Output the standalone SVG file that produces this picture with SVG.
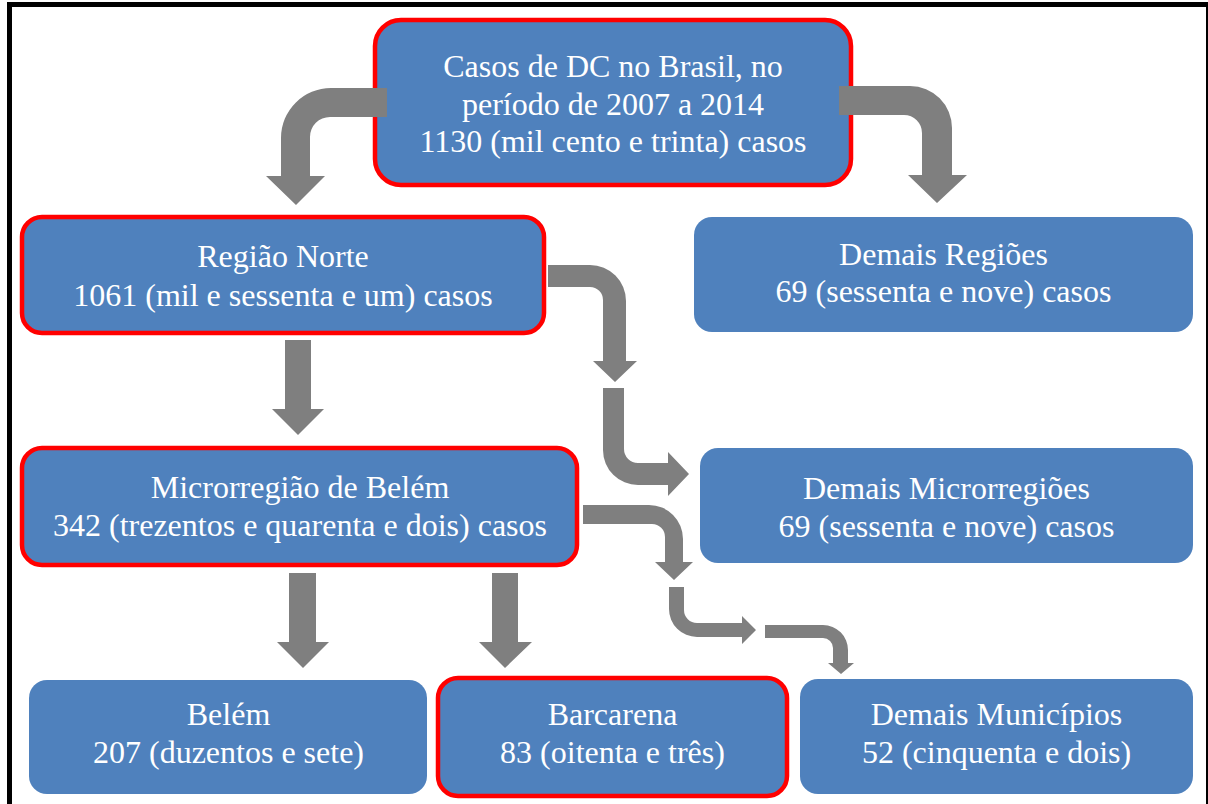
<svg xmlns="http://www.w3.org/2000/svg" width="1208" height="804" viewBox="0 0 1208 804">
<style>
.box{fill:#4F81BD}
.hl{stroke:#FF0000;stroke-width:4.5}
.t{font-family:"Liberation Serif","Times New Roman",serif;font-size:32px;fill:#FFFFFF;text-anchor:middle}
.arr{fill:#7F7F7F}
</style>
<rect x="0" y="0" width="1208" height="804" fill="#FFFFFF"/>
<rect x="9.5" y="4.5" width="1199" height="900" fill="none" stroke="#000000" stroke-width="5"/>
<g id="node-brasil">
<rect class="box hl" x="375" y="20" width="476" height="165" rx="26"/>
<text class="t" x="613" y="77">Casos de DC no Brasil, no</text>
<text class="t" x="613" y="114.5">período de 2007 a 2014</text>
<text class="t" x="613" y="152">1130 (mil cento e trinta) casos</text>
</g>
<g id="node-norte">
<rect class="box hl" x="22" y="217" width="522" height="116" rx="20"/>
<text class="t" x="283" y="267">Região Norte</text>
<text class="t" x="283" y="306">1061 (mil e sessenta e um) casos</text>
</g>
<g id="node-demais-regioes">
<rect class="box" x="694" y="217" width="499" height="115" rx="18"/>
<text class="t" x="943.5" y="265">Demais Regiões</text>
<text class="t" x="943.5" y="302">69 (sessenta e nove) casos</text>
</g>
<g id="node-micro">
<rect class="box hl" x="22" y="448" width="555" height="117" rx="20"/>
<text class="t" x="300" y="498">Microrregião de Belém</text>
<text class="t" x="300" y="536">342 (trezentos e quarenta e dois) casos</text>
</g>
<g id="node-demais-micro">
<rect class="box" x="700" y="448" width="493" height="115" rx="18"/>
<text class="t" x="946.5" y="499">Demais Microrregiões</text>
<text class="t" x="946.5" y="537">69 (sessenta e nove) casos</text>
</g>
<g id="node-belem">
<rect class="box" x="29" y="680" width="398" height="114" rx="18"/>
<text class="t" x="228.5" y="725">Belém</text>
<text class="t" x="228.5" y="763">207 (duzentos e sete)</text>
</g>
<g id="node-barcarena">
<rect class="box hl" x="438" y="678" width="349" height="118" rx="20"/>
<text class="t" x="612.5" y="725">Barcarena</text>
<text class="t" x="612.5" y="763">83 (oitenta e três)</text>
</g>
<g id="node-demais-municipios">
<rect class="box" x="800" y="679" width="393" height="115" rx="18"/>
<text class="t" x="996.5" y="725">Demais Municípios</text>
<text class="t" x="996.5" y="763">52 (cinquenta e dois)</text>
</g>
<g id="connectors">
<path class="arr" d="M387,88 L331,88 A50,50 0 0 0 281,138 L281,176 L266,176 L296,205 L325,176 L310,176 L310,137 A20,20 0 0 1 330,117 L387,117 Z"/>
<path class="arr" d="M839,86 L910,86 A42,42 0 0 1 952,128 L952,175 L967,175 L937,203 L908,175 L922,175 L922,133 A18,18 0 0 0 904,115 L839,115 Z"/>
<path class="arr" d="M548,265 L590,265 A36,36 0 0 1 626,301 L626,361 L637,361 L615,382 L593,361 L603,361 L603,300 A13,13 0 0 0 590,287 L548,287 Z"/>
<path class="arr" d="M603,388 L624,388 L624,449 A14,14 0 0 0 638,463 L668,463 L668,452 L689,474 L668,496 L668,485 L638,485 A35,35 0 0 1 603,450 Z"/>
<path class="arr" d="M583,505 L649,505 A34,34 0 0 1 683,539 L683,562 L693,562 L674,580 L655,562 L665,562 L665,537 A13,13 0 0 0 652,524 L583,524 Z"/>
<path class="arr" d="M669,587 L684,587 L684,610 A13,13 0 0 0 697,623 L742,623 L742,616 L756,630 L742,644 L742,637 L697,637 A28,28 0 0 1 669,609 Z"/>
<path class="arr" d="M765,625 L823,625 A25,25 0 0 1 848,650 L848,663 L854,663 L841,674 L828,663 L833,663 L833,648 A10,10 0 0 0 823,638 L765,638 Z"/>
<path class="arr" d="M285,340 L311,340 L311,409 L324,409 L298,435 L272,409 L285,409 Z"/>
<path class="arr" d="M289,573 L316,573 L316,642 L329,642 L303,668 L277,642 L289,642 Z"/>
<path class="arr" d="M492,573 L518,573 L518,642 L532,642 L505,668 L479,642 L492,642 Z"/>
</g>
</svg>
